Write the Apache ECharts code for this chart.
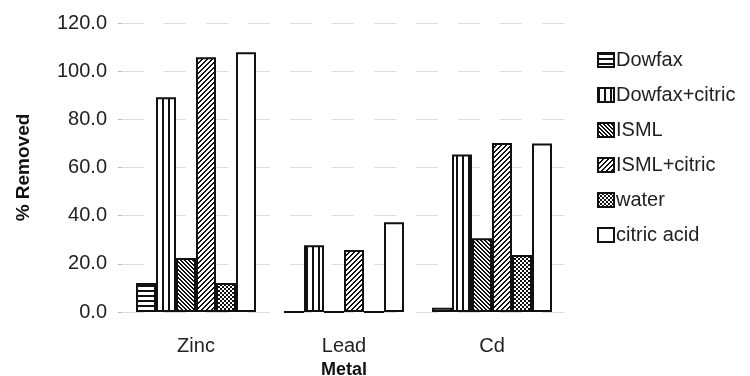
<!DOCTYPE html>
<html>
<head>
<meta charset="utf-8">
<script src="https://cdn.jsdelivr.net/npm/echarts@6/dist/echarts.min.js"></script>
<style>
html,body{margin:0;padding:0;background:#fff;}
#chart{width:750px;height:376px;}
</style>
</head>
<body>
<div id="chart"></div>
<script>
// ---- data ----
const categories = ['Zinc', 'Lead', 'Cd'];
const seriesNames = ['Dowfax', 'Dowfax+citric', 'ISML', 'ISML+citric', 'water', 'citric acid'];
const dowfax       = [12.0, 0, 1.8];
const dowfaxCitric = [89.2, 27.7, 65.4];
const isml         = [22.4, 0, 30.6];
const ismlCitric   = [105.8, 25.7, 70.2];
const water        = [12.0, 0, 23.7];
const citricAcid   = [107.9, 37.3, 70.0];
const yTicks = [0, 20, 40, 60, 80, 100, 120];

// ---- patterns ----
function makePattern(w, h, fn) {
  const c = document.createElement('canvas');
  c.width = w; c.height = h;
  const ctx = c.getContext('2d');
  ctx.fillStyle = '#fff';
  ctx.fillRect(0, 0, w, h);
  ctx.fillStyle = '#111';
  for (let y = 0; y < h; y++) {
    for (let x = 0; x < w; x++) {
      if (fn(x, y)) ctx.fillRect(x, y, 1, 1);
    }
  }
  return { image: c, repeat: 'repeat' };
}
const patHoriz = makePattern(4, 5, (x, y) => y < 2);
const patVert = makePattern(6, 4, (x, y) => x < 2);
const patBack = makePattern(4, 4, (x, y) => ((x - y + 8) % 4) < 2);
const patFwd = makePattern(5, 5, (x, y) => ((x + y) % 5) < 2);
const patCheck = makePattern(4, 4, (x, y) => ((Math.floor(x / 2) + Math.floor(y / 2)) % 2) === 0);
const fills = [patHoriz, patVert, patBack, patFwd, patCheck, '#ffffff'];
const values = [dowfax, dowfaxCitric, isml, ismlCitric, water, citricAcid];

const font = 'Liberation Sans, Arial, Helvetica, sans-serif';

const chart = echarts.init(document.getElementById('chart'), null, { renderer: 'canvas' });
chart.setOption({
  backgroundColor: '#fff',
  animation: false,
  grid: { left: 122, right: 184, top: 23, bottom: 64, outerBoundsMode: 'none', containLabel: false },
  legend: {
    orient: 'vertical',
    left: 592,
    top: 45,
    itemWidth: 16,
    itemHeight: 14,
    itemGap: 15,
    icon: 'rect',
    data: seriesNames,
    textStyle: { fontFamily: font, fontSize: 20, color: '#222', lineHeight: 20, padding: [0, 0, 0, -3] }
  },
  xAxis: {
    type: 'category',
    data: categories,
    name: 'Metal',
    nameLocation: 'middle',
    nameGap: 48,
    nameTextStyle: { fontFamily: font, fontSize: 18, fontWeight: 'bold', color: '#111' },
    axisLine: { show: false },
    axisTick: { show: false },
    axisLabel: { fontFamily: font, fontSize: 20, color: '#222', margin: 24 },
    splitLine: { show: false }
  },
  yAxis: {
    type: 'value',
    min: yTicks[0],
    max: yTicks[yTicks.length - 1],
    interval: 20,
    name: '% Removed',
    nameLocation: 'middle',
    nameGap: 89,
    nameTextStyle: { fontFamily: font, fontSize: 19, fontWeight: 'bold', color: '#111' },
    axisLine: { show: false },
    axisTick: { show: true, length: 4, lineStyle: { color: '#bbb' } },
    axisLabel: { fontFamily: font, fontSize: 20, color: '#222', margin: 15,
      formatter: v => v.toFixed(1) },
    splitLine: { show: true, lineStyle: { color: '#dcdcdc', type: [22, 20], width: 1 } }
  },
  series: seriesNames.map((name, i) => ({
    name: name,
    type: 'bar',
    data: values[i],
    barGap: 0,
    barWidth: 20,
    itemStyle: { color: fills[i], borderColor: '#111', borderWidth: 2 }
  }))
});
</script>
</body>
</html>
